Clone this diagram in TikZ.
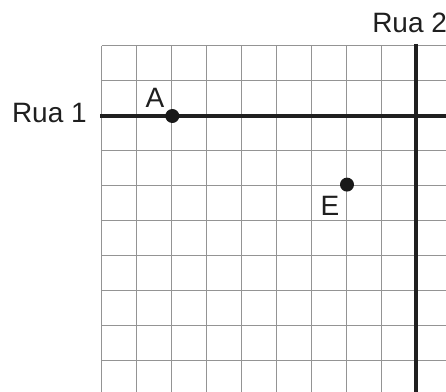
\documentclass[tikz,border=0pt]{standalone}
\usepackage{fontspec}
\setmainfont{Liberation Sans}
\usetikzlibrary{positioning}
\tikzset{
  gridline/.style={draw=black!42, line width=0.95pt},
  street/.style={draw=black!88, line width=3pt},
  spot/.style={circle, fill=black!90, inner sep=0pt, minimum size=10.5pt},
  lbl/.style={font=\fontsize{21}{25}\selectfont, inner sep=0pt, text=black!88},
}
\begin{document}
\begin{tikzpicture}[x=0.75pt, y=-0.75pt]
    \useasboundingbox (0,0) rectangle (446,392);
    \clip (0,0) rectangle (446,392);
    % Grid
    \foreach \i in {0,...,10} {
      \draw[gridline] ({101.7+34.95*\i},45.7) -- ({101.7+34.95*\i},400);
      \draw[gridline] (101.7,{45.7+34.95*\i}) -- (450,{45.7+34.95*\i});
    }
    % Streets
    \coordinate (r1w) at (100,116);
    \coordinate (r1e) at (450,116);
    \coordinate (r2n) at (416.3,44);
    \coordinate (r2s) at (416.3,400);
    \draw[street] (r1w) -- (r1e);
    \draw[street] (r2n) -- (r2s);
    \node[lbl, anchor=base east] (rua1) at (87,123) {Rua 1};
    \node[lbl, anchor=base west] (rua2) at (372,33) {Rua 2};
    % Points
    \node[spot] (A) at (172.3,116) {};
    \node[spot] (E) at (347,184.6) {};
    \node[lbl, anchor=base] (labA) at (155,108) {A};
    \node[lbl, anchor=base] (labE) at (330,215) {E};
  \end{tikzpicture}
\end{document}
